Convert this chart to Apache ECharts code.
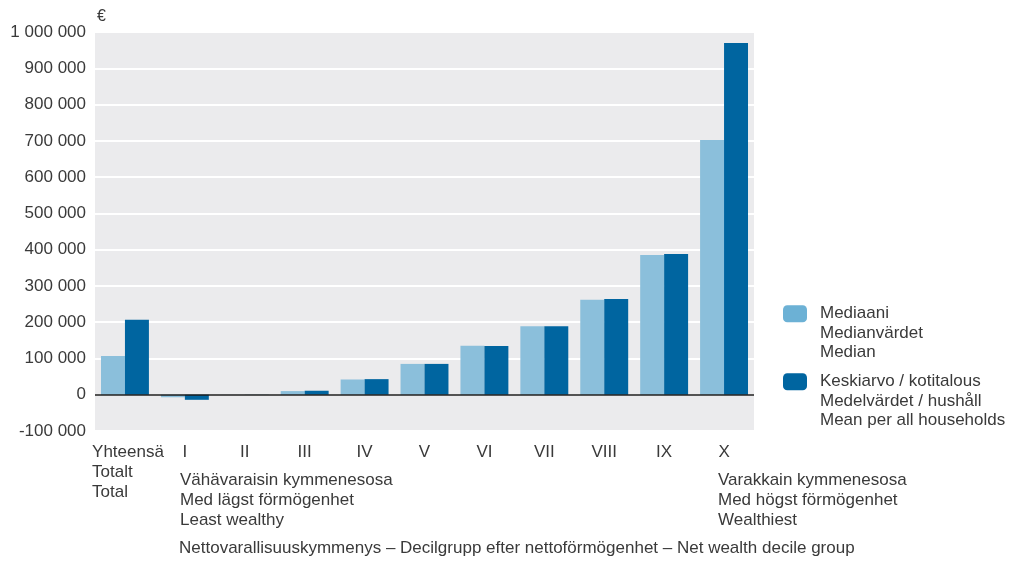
<!DOCTYPE html>
<html>
<head>
<meta charset="utf-8">
<script src="https://cdn.jsdelivr.net/npm/echarts@6/dist/echarts.min.js"></script>
<style>
html,body{margin:0;padding:0;background:#fff;}
#chart{width:1012px;height:561px;}
</style>
</head>
<body>
<div id="chart"></div>
<script>
const categories = ['Yhteensä', 'I', 'II', 'III', 'IV', 'V', 'VI', 'VII', 'VIII', 'IX', 'X'];
const medianValues = [107000, -7000, 200, 10000, 42000, 85000, 135000, 189000, 262000, 385000, 702000];
const meanValues = [207000, -14000, 400, 11000, 43000, 85000, 134000, 189000, 264000, 388000, 970000];
const seriesNames = ['Mediaani\nMedianvärdet\nMedian', 'Keskiarvo / kotitalous\nMedelvärdet / hushåll\nMean per all households'];
const firstCategoryLines = ['Yhteensä', 'Totalt', 'Total'];
const leastLabel = 'Vähävaraisin kymmenesosa\nMed lägst förmögenhet\nLeast wealthy';
const mostLabel = 'Varakkain kymmenesosa\nMed högst förmögenhet\nWealthiest';
const xAxisTitle = 'Nettovarallisuuskymmenys – Decilgrupp efter nettoförmögenhet – Net wealth decile group';
const yUnit = '€';

const FONT = 'Liberation Sans';
const FS = 17;
const TXT = '#3a3a3a';

function fmt(v) {
  const s = Math.abs(v).toString().replace(/\B(?=(\d{3})+(?!\d))/g, ' ');
  return (v < 0 ? '-' : '') + s;
}

const chart = echarts.init(document.getElementById('chart'));
chart.setOption({
  animation: false,
  backgroundColor: '#fff',
  textStyle: { fontFamily: FONT, color: TXT },
  grid: {
    left: 95, right: 258, top: 32, bottom: 130,
    show: true, backgroundColor: '#ebebed', borderWidth: 0
  },
  legend: {
    orient: 'vertical',
    left: 783,
    top: 265,
    padding: 0,
    itemWidth: 24,
    itemHeight: 17,
    itemGap: -29.5,
    selectedMode: false,
    data: [
      { name: seriesNames[0], itemStyle: { color: '#6cb1d5' } },
      { name: seriesNames[1], itemStyle: { color: '#0065a0' } }
    ],
    formatter: function (name) { return '\n\n' + name; },
    textStyle: { fontFamily: FONT, fontSize: FS, color: TXT, lineHeight: 19.5, padding: [0, 0, 0, 8] }
  },
  xAxis: {
    type: 'category',
    data: categories,
    axisLine: { show: false, onZero: false },
    axisTick: { show: false },
    axisLabel: {
      interval: 0,
      margin: 11,
      fontFamily: FONT,
      fontSize: FS,
      color: TXT,
      lineHeight: 20,
      formatter: function (v, i) {
        if (i === 0) return firstCategoryLines.map(function (s) { return '{l|' + s + '}'; }).join('\n');
        return v;
      },
      rich: { l: { align: 'left', fontFamily: FONT, fontSize: FS, color: TXT, lineHeight: 20, padding: [0, 0, 0, 6] } }
    }
  },
  yAxis: {
    type: 'value',
    min: -100000,
    max: 1000000,
    interval: 100000,
    name: yUnit,
    nameLocation: 'end',
    nameGap: 7,
    nameTextStyle: { fontFamily: FONT, fontSize: 16, color: TXT, align: 'left', padding: [0, 0, 0, 2] },
    axisLine: { show: false },
    axisTick: { show: false },
    axisLabel: { margin: 9, fontFamily: FONT, fontSize: FS, color: TXT, formatter: fmt },
    splitLine: { show: true, lineStyle: { color: '#ffffff', width: 2 } }
  },
  series: [
    {
      name: seriesNames[0],
      type: 'bar',
      data: medianValues,
      barGap: '0%',
      barCategoryGap: '20%',
      itemStyle: { color: '#8bbfdb' },
      markLine: {
        silent: true,
        symbol: 'none',
        label: { show: false },
        lineStyle: { color: '#1a1a1a', width: 1.5, type: 'solid' },
        data: [{ yAxis: 0 }],
        z: 10
      }
    },
    {
      name: seriesNames[1],
      type: 'bar',
      data: meanValues,
      barGap: '0%',
      barCategoryGap: '20%',
      itemStyle: { color: '#0065a0' }
    }
  ],
  graphic: [
    { type: 'text', left: 180, top: 470, style: { text: leastLabel, font: FS + 'px "' + FONT + '"', fill: TXT, lineHeight: 20 } },
    { type: 'text', left: 718, top: 470, style: { text: mostLabel, font: FS + 'px "' + FONT + '"', fill: TXT, lineHeight: 20 } },
    { type: 'text', left: 179, top: 540, style: { text: xAxisTitle, font: FS + 'px "' + FONT + '"', fill: TXT } }
  ]
});
</script>
</body>
</html>
